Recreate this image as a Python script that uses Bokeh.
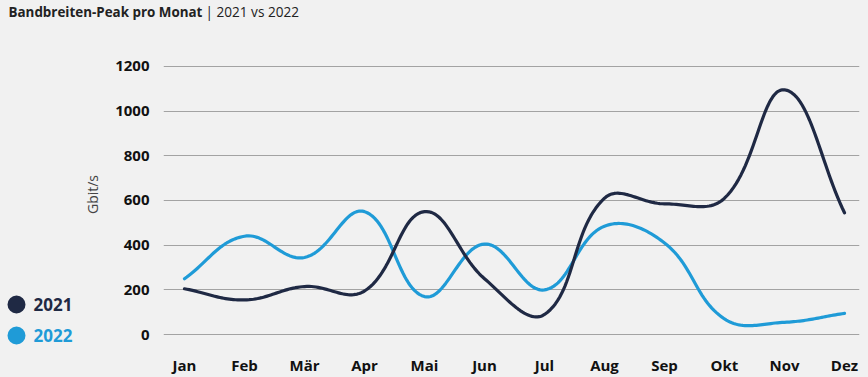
import numpy as np
from bokeh.plotting import figure
from bokeh.layouts import column, row
from bokeh.models import Range1d, FixedTicker, Label, BoxAnnotation
from bokeh.embed import file_html
from bokeh.resources import INLINE

months = ["Jan", "Feb", "Mär", "Apr", "Mai", "Jun", "Jul", "Aug", "Sep", "Okt", "Nov", "Dez"]
peak_2021 = [205, 155, 215, 195, 550, 250, 90, 610, 585, 610, 1095, 545]
peak_2022 = [250, 440, 345, 550, 170, 405, 200, 485, 410, 70, 55, 95]
y_ticks = [0, 200, 400, 600, 800, 1000, 1200]
series_names = ["2021", "2022"]

W, H = 868, 377
TH = 30            # title strip height
LW = 78            # legend strip width
MW, MH = W - LW, H - TH
BL, BR, BT, BB = 85, 9, 10, 27
FW, FH = MW - BL - BR, MH - BT - BB
FRAME_BOTTOM = H - BB          # canvas y of the (shared) frame bottom
SX = 60.0          # px per month
SY = 0.225         # px per Gbit/s
X0 = -21 / SX
X1 = X0 + FW / SX
Y0 = -14 / SY
Y1 = Y0 + FH / SY

BG = "#f1f1f1"
DARK = "#1f2944"
BLUE = "#1f9bd7"
FONT = "Open Sans"


def smooth(xs, ys, t=0.4, n=30):
    px = np.asarray(xs, float) * SX
    py = np.asarray(ys, float) * SY
    N = len(px)
    cpp, cpn = [], []
    for i in range(N):
        a = i - 1 if i > 0 else i
        b = i + 1 if i < N - 1 else i
        d01 = np.hypot(px[i] - px[a], py[i] - py[a])
        d12 = np.hypot(px[b] - px[i], py[b] - py[i])
        s = d01 + d12
        s01 = d01 / s if s else 0
        s12 = d12 / s if s else 0
        dx, dy = px[b] - px[a], py[b] - py[a]
        cpp.append((px[i] - t * s01 * dx, py[i] - t * s01 * dy))
        cpn.append((px[i] + t * s12 * dx, py[i] + t * s12 * dy))
    ox, oy = [px[0]], [py[0]]
    u = np.linspace(0, 1, n + 1)[1:]
    for i in range(N - 1):
        p0 = np.array([px[i], py[i]])
        p1 = np.array(cpn[i])
        p2 = np.array(cpp[i + 1])
        p3 = np.array([px[i + 1], py[i + 1]])
        for uu in u:
            q = ((1 - uu) ** 3) * p0 + 3 * ((1 - uu) ** 2) * uu * p1 + 3 * (1 - uu) * uu ** 2 * p2 + uu ** 3 * p3
            ox.append(q[0]); oy.append(q[1])
    return np.array(ox) / SX, np.array(oy) / SY


def blank(w, h):
    f = figure(width=w, height=h, output_backend="svg", toolbar_location=None,
               x_range=Range1d(0, 1), y_range=Range1d(0, 1),
               x_axis_location=None, y_axis_location=None,
               min_border=0, min_border_left=0, min_border_right=0,
               min_border_top=0, min_border_bottom=0,
               background_fill_color=BG, background_fill_alpha=1.0,
               border_fill_color=BG, border_fill_alpha=1.0, outline_line_color=None,
               styles={"background-color": BG})
    f.grid.grid_line_color = None
    return f


# ---- title strip ----
t = blank(W, TH)
t.add_layout(Label(x=8, y=TH - 11, x_units="screen", y_units="screen",
                   text="Bandbreiten-Peak pro Monat", text_baseline="alphabetic",
                   text_font=FONT, text_font_style="bold", text_font_size="13.4px", text_color="#222222"))
t.add_layout(Label(x=205, y=TH - 11, x_units="screen", y_units="screen",
                   text="| 2021 vs 2022", text_baseline="alphabetic",
                   text_font=FONT, text_font_size="13.6px", text_color="#222222"))

# ---- legend strip (its frame is aligned with the chart frame by the row) ----
lg = blank(LW, MH)
for name, col, yc in [(series_names[0], DARK, 306), (series_names[1], BLUE, 337)]:
    ly = FRAME_BOTTOM - yc
    lg.add_layout(BoxAnnotation(left=7, right=25, bottom=ly - 9, top=ly + 9,
                                left_units="screen", right_units="screen",
                                bottom_units="screen", top_units="screen",
                                fill_color=col, fill_alpha=1, line_color=None,
                                border_radius=9, level="overlay"))
    lg.add_layout(Label(x=33, y=ly, x_units="screen", y_units="screen", text=name,
                        text_baseline="middle", text_font=FONT, text_font_style="bold",
                        text_font_size="17px", text_color=col))

# ---- main chart ----
p = figure(width=MW, height=MH, output_backend="svg", toolbar_location=None,
           x_range=Range1d(X0, X1), y_range=Range1d(Y0, Y1),
           min_border_left=BL, min_border_right=BR, min_border_top=BT, min_border_bottom=BB,
           background_fill_color=BG, border_fill_color=BG, outline_line_color=None,
           styles={"background-color": BG})

xi = list(range(len(months)))
for vals, col in [(peak_2022, BLUE), (peak_2021, DARK)]:
    lx, ly = smooth(xi, vals)
    p.line(lx, ly, line_width=3.2, line_color=col, line_cap="round", line_join="round")

p.xgrid.grid_line_color = None
p.ygrid.grid_line_color = "#a3a3a3"
p.ygrid.grid_line_width = 1

p.yaxis.ticker = FixedTicker(ticks=y_ticks)
p.xaxis.ticker = FixedTicker(ticks=xi)
p.xaxis.major_label_overrides = {i: m for i, m in enumerate(months)}
for ax in (p.xaxis[0], p.yaxis[0]):
    ax.axis_line_color = None
    ax.major_tick_line_color = None
    ax.minor_tick_line_color = None
    ax.major_tick_out = 0
    ax.major_tick_in = 0
    ax.major_label_text_font = FONT
    ax.major_label_text_font_style = "bold"
    ax.major_label_text_font_size = "15px"
    ax.major_label_text_color = "#111111"
p.yaxis.major_label_standoff = 14
p.xaxis.major_label_standoff = 6
p.yaxis.axis_label = "Gbit/s"
p.yaxis.axis_label_standoff = 10
p.yaxis.axis_label_text_font = FONT
p.yaxis.axis_label_text_font_style = "normal"
p.yaxis.axis_label_text_font_size = "14px"
p.yaxis.axis_label_text_color = "#444444"

layout = column(t, row(lg, p, spacing=0, styles={"background-color": BG}),
                spacing=0, styles={"background-color": BG})
html = file_html(layout, INLINE)
html = html.replace("<head>", "<head><style>html,body{margin:0;background:%s;}</style>" % BG, 1)
open("out.html", "w").write(html)
